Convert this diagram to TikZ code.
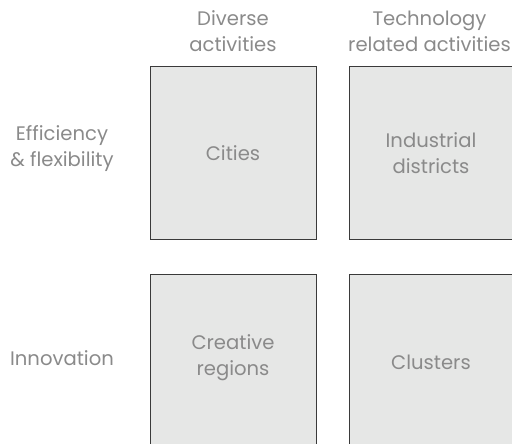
\documentclass[tikz,border=0pt]{standalone}
\usepackage{fontspec}
\setmainfont{Poppins}
\definecolor{boxfill}{HTML}{E6E7E6}
\definecolor{boxline}{HTML}{3A3A3A}
\definecolor{txt}{HTML}{8A8A8A}
\begin{document}
\begin{tikzpicture}[x=1pt,y=1pt,
  cell/.style={draw=boxline, line width=1.2pt, fill=boxfill, minimum width=166pt, minimum height=173pt, inner sep=0pt, anchor=north west},
  lbl/.style={text=txt, align=center, font=\fontsize{19.6}{26}\selectfont, inner sep=0pt}]
\useasboundingbox (0,0) rectangle (512,444);
\clip (0,0) rectangle (512,444);
% cells (y = 444 - pixel y)
\node[cell] (c11) at (150,378) {};
\node[cell] (c12) at (349,378) {};
\node[cell] (c21) at (150,170) {};
\node[cell] (c22) at (349,170) {};
% cell texts
\node[lbl] (t11) at (233,291) {Cities};
\node[lbl] (t12) at (431,291) {Industrial\\districts};
\node[lbl] (t21) at (233,86) {Creative\\regions};
\node[lbl] (t22) at (431,82) {Clusters};
% column headers
\node[lbl] (h1) at (233,413) {Diverse\\activities};
\node[lbl] (h2) at (429.5,413) {Technology\\related activities};
% row headers
\node[lbl] (r1) at (62,295) {Efficiency\\\& flexibility};
\node[lbl] (r2) at (62,86) {Innovation};
\end{tikzpicture}
\end{document}
